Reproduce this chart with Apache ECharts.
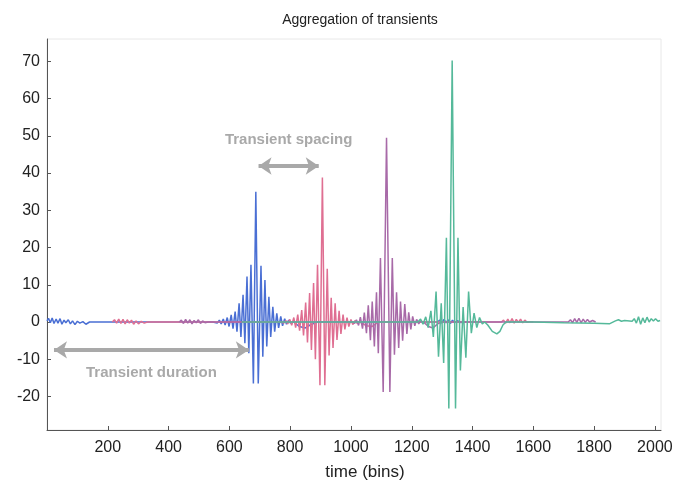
<!DOCTYPE html>
<html>
<head>
<meta charset="utf-8">
<script src="https://cdn.jsdelivr.net/npm/echarts@6/dist/echarts.min.js"></script>
<style>
    html, body { margin: 0; padding: 0; background: #fff; }
    #chart { width: 680px; height: 493px; }
</style>
</head>
<body>
<div id="chart"></div>
<script>
// 读图得到的数据: [bin, value]
var xTicks = [200, 400, 600, 800, 1000, 1200, 1400, 1600, 1800, 2000];
var yTicks = [-20, -10, 0, 10, 20, 30, 40, 50, 60, 70];

var blueWave = [
    [0, 0.3], [5, 1.0], [11, -0.2], [17, 1.1], [23, -0.4], [30, 0.8], [36, -0.3], [43, 0.9], [49, -0.6],
    [56, 0.5], [62, -0.2], [70, 0.6], [77, -0.5], [84, 0.3], [92, -0.7], [100, 0.2], [108, -0.3],
    [118, 0.1], [128, -0.6], [140, 0], [545, 0],
    [560, -0.3], [567, 0.5], [573, -0.5], [580, 0.8], [586, -0.8], [593, 1.2], [599, -1.2], [606, 1.9],
    [612, -1.8], [619, 2.8], [625, -2.6], [632, 5.0], [638, -4.0], [645, 7.3], [651, -5.7], [658, 12.2],
    [664, -8.4], [671, 15.4], [679, -16.5], [687, 35], [695, -16.5], [704, 15.1], [710, -9.3],
    [717, 11.3], [723, -6.6], [730, 6.8], [736, -4.0], [743, 4.1], [749, -2.6], [756, 2.3], [762, -1.6],
    [769, 1.5], [775, -1.0], [782, 0.9], [788, -0.6], [795, 0.5], [801, -0.3], [812, 0],
    [830, -1.2], [850, -1.6], [870, -0.6], [890, 0], [1285, 0],
    [1292, 0.5], [1299, -0.3], [1306, 0.7], [1313, -0.2], [1320, 0.6], [1327, -0.4], [1334, 0.5],
    [1341, -0.2], [1350, 0.4], [1360, -0.1], [1380, 0]
];

var pinkWave = [
    [215, 0], [222, 0.6], [229, -0.3], [236, 0.8], [243, -0.4], [250, 0.7], [257, -0.5], [264, 0.6],
    [271, -0.3], [278, 0.5], [285, -0.6], [293, 0.3], [301, -0.5], [310, 0.2], [320, -0.3], [330, 0],
    [770, 0],
    [779, -0.3], [786, 0.4], [792, -0.5], [799, 0.7], [805, -0.9], [812, 1.2], [818, -1.5], [825, 2.0],
    [831, -2.3], [838, 3.2], [844, -3.6], [851, 5.2], [857, -5.5], [864, 7.8], [870, -7.5], [877, 10.5],
    [883, -10], [890, 15.4], [898, -17], [906, 38.8], [914, -17], [922, 14.3], [928, -9],
    [935, 6.5], [941, -7], [948, 5.0], [954, -4.8], [961, 3.0], [967, -3.2], [974, 2.0], [980, -2.0],
    [987, 1.2], [993, -1.2], [1000, 0.7], [1006, -0.7], [1013, 0.4], [1019, -0.3], [1030, 0],
    [1050, -1.0], [1070, -1.2], [1090, 0], [1495, 0],
    [1502, 0.5], [1509, -0.3], [1516, 0.8], [1523, -0.2], [1530, 0.9], [1537, -0.3], [1544, 0.7],
    [1551, -0.1], [1558, 0.8], [1565, -0.2], [1572, 0.5], [1580, -0.1], [1590, 0.1], [1600, 0]
];

var purpleWave = [
    [435, 0], [442, 0.5], [449, -0.4], [456, 0.7], [463, -0.3], [470, 0.6], [477, -0.5], [484, 0.4],
    [491, -0.2], [498, 0.6], [505, -0.4], [512, 0.3], [520, -0.2], [530, 0], [1005, 0],
    [1012, -0.4], [1018, 0.6], [1025, -0.9], [1031, 1.3], [1038, -1.8], [1044, 2.5], [1051, -3.0],
    [1057, 4.5], [1064, -4.9], [1070, 5.5], [1077, -6.6], [1084, 8.0], [1090, -8.4], [1097, 17.2],
    [1106, -18.8], [1117, 49.5], [1128, -18.8], [1136, 17.2], [1143, -8.8], [1150, 8.0], [1157, -7.0],
    [1163, 5.5], [1170, -5.0], [1177, 4.8], [1184, -3.2], [1190, 2.6], [1197, -2.0], [1203, 1.5],
    [1210, -1.0], [1216, 0.7], [1223, -0.5], [1229, 0.3], [1238, 0],
    [1255, -1.2], [1270, -1.6], [1285, -0.5], [1300, 0], [1715, 0],
    [1722, 0.6], [1729, -0.2], [1736, 0.9], [1743, -0.1], [1750, 1.0], [1757, -0.2], [1764, 0.8],
    [1771, -0.1], [1778, 0.7], [1785, 0], [1795, 0.4], [1805, 0]
];

var greenWave = [
    [640, 0], [1220, 0],
    [1229, 0.8], [1237, -0.6], [1246, 1.4], [1254, -1.5], [1263, 3.0], [1271, -4.0], [1280, 8.2],
    [1288, -9.3], [1297, 5.0], [1305, -11], [1314, 22.6], [1322, -23.2], [1333, 70.2], [1344, -23.2],
    [1352, 22.6], [1360, -13], [1369, 4.0], [1378, -9.6], [1387, 8.2], [1396, -3.0], [1405, 2.4],
    [1414, -1.5], [1423, 1.2], [1432, -0.5], [1440, 0],
    [1450, -0.8], [1465, -2.5], [1480, -3.2], [1490, -2.5], [1500, -0.8], [1510, 0],
    [1600, 0], [1700, -0.2], [1800, -0.3], [1850, -0.5], [1870, 0.3], [1880, 0.6], [1890, 0.2],
    [1900, 0.4], [1925, 0.2], [1932, 0.9], [1939, -0.3], [1946, 1.4], [1953, -0.6], [1960, 1.1],
    [1967, -0.2], [1974, 1.3], [1981, 0], [1988, 0.9], [1995, 0.3], [2002, 0.9], [2010, 0.2], [2017, 0.4]
];

var spacingArrow = [[696, 41.9], [894, 41.9]];
var durationArrow = [[23, -7.5], [664, -7.5]];

var FONT = 'Liberation Sans, Arial, sans-serif';
var ARROW_COLOR = '#a9a9a9';
var BASE_COLOR = '#3f3a58';
var SERIES_COLORS = ['#4a6fd4', '#df6f92', '#a86aa8', '#55b99a'];

function lineSeries(name, data, color) {
    return {
        name: name,
        type: 'line',
        data: data,
        showSymbol: false,
        animation: false,
        silent: true,
        lineStyle: { color: color, width: 1.5 }
    };
}

// 零线附近颜色偏暗, 其余用系列颜色
function getVisualMaps() {
    return SERIES_COLORS.map(function(color, idx) {
        return {
            type: 'piecewise',
            show: false,
            seriesIndex: idx,
            dimension: 1,
            pieces: [
                { lt: -0.35, color: color },
                { gte: -0.35, lte: 0.35, color: BASE_COLOR },
                { gt: 0.35, color: color }
            ]
        };
    });
}

function getOption() {
    var series = [
        lineSeries('t1', blueWave, SERIES_COLORS[0]),
        lineSeries('t2', pinkWave, SERIES_COLORS[1]),
        lineSeries('t3', purpleWave, SERIES_COLORS[2]),
        lineSeries('t4', greenWave, SERIES_COLORS[3])
    ];
    // 注释箭头放在最后一个系列上, 保证画在最上层
    series[3].markLine = {
        silent: true,
        animation: false,
        symbol: ['arrow', 'arrow'],
        symbolSize: 13,
        lineStyle: { color: ARROW_COLOR, width: 4, type: 'solid' },
        label: {
            show: true,
            color: ARROW_COLOR,
            fontFamily: FONT,
            fontSize: 15,
            fontWeight: 'bold'
        },
        data: [
            [
                { coord: spacingArrow[0], label: { position: 'insideMiddleTop', distance: 19, formatter: 'Transient spacing' } },
                { coord: spacingArrow[1] }
            ],
            [
                { coord: durationArrow[0], label: { position: 'insideMiddleBottom', distance: 15, formatter: 'Transient duration' } },
                { coord: durationArrow[1] }
            ]
        ]
    };

    return {
        backgroundColor: '#fff',
        animation: false,
        title: {
            text: 'Aggregation of transients',
            left: 355,
            top: 8,
            textAlign: 'center',
            textStyle: { fontFamily: FONT, fontSize: 14, fontWeight: 'normal', color: '#222' }
        },
        visualMap: getVisualMaps(),
        grid: {
            left: 47,
            right: 19,
            top: 39,
            bottom: 63,
            show: true,
            borderColor: '#e8e8e8',
            borderWidth: 1
        },
        xAxis: {
            type: 'value',
            min: 0,
            max: 2020,
            name: 'time (bins)',
            nameLocation: 'middle',
            nameGap: 34,
            nameTextStyle: { fontFamily: FONT, fontSize: 17, color: '#222', padding: [0, 0, 0, 22] },
            splitLine: { show: false },
            axisLine: { show: true, onZero: false, lineStyle: { color: '#555', width: 1 } },
            axisTick: { show: true, inside: true, length: 4, customValues: xTicks, lineStyle: { color: '#555' } },
            axisLabel: {
                customValues: xTicks, margin: 10, fontFamily: FONT, fontSize: 16, color: '#222',
                formatter: function(v) { return String(v); }
            }
        },
        yAxis: {
            type: 'value',
            min: -29,
            max: 76,
            splitLine: { show: false },
            axisLine: { show: true, onZero: false, lineStyle: { color: '#555', width: 1 } },
            axisTick: { show: true, inside: true, length: 4, customValues: yTicks, lineStyle: { color: '#555' } },
            axisLabel: { customValues: yTicks, margin: 7, fontFamily: FONT, fontSize: 16, color: '#222' }
        },
        series: series
    };
}

var chart = echarts.init(document.getElementById('chart'), null, { renderer: 'canvas' });
chart.setOption(getOption());
</script>
</body>
</html>
